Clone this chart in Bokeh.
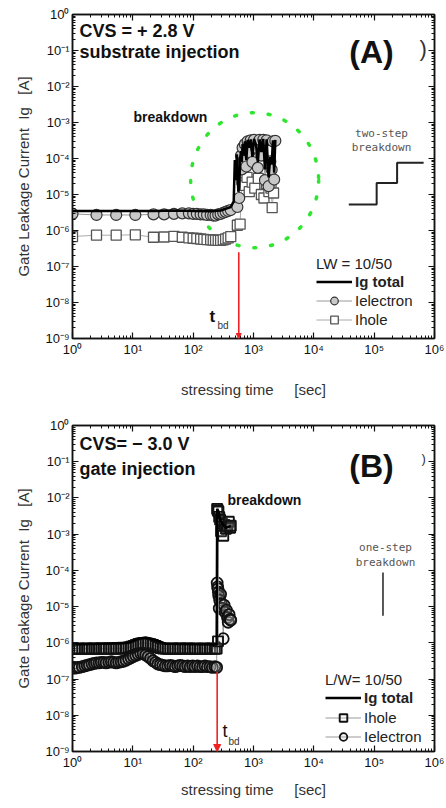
from bokeh.plotting import figure
from bokeh.layouts import column
from bokeh.models import (Range1d, LogAxis, FixedTicker, CustomJSTickFormatter, Label,
                          Arrow, NormalHead, Legend, LegendItem, CustomLabelingPolicy)
from bokeh.embed import file_html
from bokeh.resources import INLINE

# ---------------- axes ----------------
x_ticks = [1e0, 1e1, 1e2, 1e3, 1e4, 1e5, 1e6]
x_tick_labels = ["10⁰", "10¹", "10²", "10³", "10⁴", "10⁵", "10⁶"]
y_ticks = [1e-9, 1e-8, 1e-7, 1e-6, 1e-5, 1e-4, 1e-3, 1e-2, 1e-1, 1e0]
y_tick_labels = ["10⁻⁹", "10⁻⁸", "10⁻⁷", "10⁻⁶", "10⁻⁵", "10⁻⁴", "10⁻³", "10⁻²", "10⁻¹", "10⁰"]

# ---------------- panel (A): CVS = +2.8 V, substrate injection ----------------
a_elec_t = [1.0, 2.5, 5.3, 11, 22, 33, 48, 66, 85, 100, 115, 133, 150, 170, 195, 215, 235, 260,
            285, 315, 345, 380, 420, 540,
            580, 600, 620, 640, 660, 690, 720, 760, 800, 850, 900, 960, 1020, 1100, 1180, 1260,
            1350, 1450, 1550, 1650, 1780, 1900, 2000, 2100, 2200, 2300]
a_elec_i = [2.9e-6, 2.7e-6, 2.7e-6, 2.7e-6, 2.8e-6, 2.8e-6, 2.9e-6, 3.0e-6, 3.0e-6, 2.9e-6,
            2.9e-6, 2.8e-6, 2.8e-6, 2.7e-6, 2.7e-6, 2.6e-6, 2.6e-6, 2.8e-6,
            2.9e-6, 3.1e-6, 3.3e-6, 3.5e-6, 3.7e-6, 4.5e-6,
            8e-6, 7e-5, 1.2e-4, 5e-5, 2e-4, 9e-5, 2.5e-4, 6e-5, 3e-4, 1.5e-4, 3.2e-4, 8e-5,
            3.3e-4, 2e-4, 5.5e-5, 3.3e-4, 1.2e-4, 3.3e-4, 2.5e-5, 3.2e-4, 1.7e-5, 8.3e-5,
            4.9e-5, 3.0e-4, 2.6e-5, 3.1e-4]
a_hole_t = [1.0, 2.5, 5.3, 11, 22, 33, 48, 66, 85, 100, 115, 133, 150, 170, 195, 215, 235, 260,
            285, 315, 345, 380, 420, 540,
            600, 640, 680, 720, 780, 850, 950, 1050, 1200, 1350, 1490, 1650, 1800, 1950, 2040, 2150]
a_hole_i = [6.8e-7, 7.4e-7, 7.4e-7, 7.6e-7, 6.5e-7, 6.6e-7, 6.9e-7, 6.5e-7, 6.2e-7, 6.1e-7,
            6.0e-7, 5.8e-7, 5.7e-7, 5.6e-7, 5.5e-7, 5.4e-7, 5.4e-7, 5.3e-7,
            5.3e-7, 5.5e-7, 5.8e-7, 6.2e-7, 6.8e-7, 1.4e-6,
            1.5e-6, 2.6e-5, 4e-5, 1.8e-5, 3e-5, 1.2e-5, 2.2e-5, 1.5e-5, 2.8e-5, 1.0e-5,
            8e-6, 2e-5, 1.2e-5, 1.5e-5, 4.3e-6, 1.1e-5]
a_total_t = [1.0, 2.5, 5.3, 11, 22, 48, 110, 195, 285, 345, 420, 470,
             490, 510, 530, 560, 580, 600, 620, 640, 660, 690, 720, 760, 800, 850, 900, 960,
             1020, 1100, 1180, 1260, 1350, 1450, 1550, 1650, 1780, 1900, 2000, 2100, 2200, 2300]
a_total_i = [3.5e-6, 3.5e-6, 3.5e-6, 3.5e-6, 3.5e-6, 3.6e-6, 3.5e-6, 3.4e-6, 3.6e-6, 4.0e-6, 4.5e-6, 6.5e-6,
             9e-5, 2.5e-5, 1.3e-4, 1.2e-5, 1.5e-5, 9e-5, 1.6e-4, 8e-5, 2.5e-4, 1.2e-4, 3e-4, 9e-5,
             3.3e-4, 2e-4, 3.4e-4, 1.1e-4, 3.5e-4, 2.4e-4, 8e-5, 3.4e-4, 1.5e-4, 3.5e-4, 5e-5,
             3.4e-4, 3e-5, 1.1e-4, 7e-5, 3.2e-4, 4e-5, 3.3e-4]
a_tbd = 570
a_tbd_from = 2.5e-7
a_zone_t, a_zone_i = 1045, 2.5e-5
a_twostep_t = [3.8e4, 1.1e5, 1.1e5, 2.4e5, 2.4e5, 6.6e5]
a_twostep_i = [5.3e-6, 5.3e-6, 2.1e-5, 2.1e-5, 7.6e-5, 7.6e-5]

# ---------------- panel (B): CVS = -3.0 V, gate injection ----------------
b_t = [1.0, 1.1, 1.2, 1.3, 1.45, 1.6, 1.75, 1.9, 2.1, 2.3,
       2.5, 2.75, 3.0, 3.3, 3.6, 4.0, 4.4, 4.8, 5.3, 5.8,
       6.4, 7.0, 7.7, 8.5, 9.3,
       10.2, 11.2, 12.3, 13.5, 14.8, 16.3, 17.9, 19.7, 21.6, 23.8, 26,
       28.7, 31.5, 34.6, 38, 41.8, 46, 50.5, 55.5, 61, 67,
       73.7, 81, 89, 98, 107, 118, 130, 143, 157, 172,
       190, 208, 229, 245]
b_hole_pre = [6.8e-7, 6.8e-7, 6.9e-7, 7.0e-7, 6.8e-7, 6.9e-7, 7.0e-7, 6.8e-7, 6.9e-7, 7.0e-7,
              6.8e-7, 6.9e-7, 7.0e-7, 6.9e-7, 6.8e-7, 7.0e-7, 6.9e-7, 6.8e-7, 7.0e-7, 6.9e-7,
              7.0e-7, 7.1e-7, 7.2e-7, 7.4e-7, 7.8e-7,
              8.2e-7, 8.8e-7, 9.3e-7, 9.6e-7, 9.8e-7, 9.7e-7, 9.5e-7, 9.2e-7, 8.8e-7, 8.2e-7, 7.6e-7,
              7.2e-7, 7.0e-7, 6.9e-7, 6.8e-7, 6.9e-7, 7.0e-7, 6.8e-7, 6.9e-7, 7.0e-7, 6.8e-7,
              6.9e-7, 7.0e-7, 6.9e-7, 6.8e-7, 7.0e-7, 6.9e-7, 6.8e-7, 6.9e-7, 7.0e-7, 6.8e-7,
              6.9e-7, 7.0e-7, 6.8e-7, 6.9e-7]
b_elec_pre = [2.0e-7, 2.0e-7, 2.1e-7, 2.1e-7, 2.2e-7, 2.3e-7, 2.4e-7, 2.5e-7, 2.6e-7, 2.7e-7,
              2.8e-7, 2.8e-7, 2.9e-7, 2.9e-7, 2.8e-7, 2.9e-7, 3.0e-7, 2.9e-7, 2.8e-7, 2.9e-7,
              3.0e-7, 3.1e-7, 3.3e-7, 3.6e-7, 3.9e-7,
              4.2e-7, 4.5e-7, 4.8e-7, 5.1e-7, 5.0e-7, 4.6e-7, 4.2e-7, 3.7e-7, 3.2e-7, 2.9e-7, 2.6e-7,
              2.5e-7, 2.4e-7, 2.3e-7, 2.3e-7, 2.4e-7, 2.3e-7, 2.2e-7, 2.3e-7, 2.4e-7, 2.3e-7,
              2.2e-7, 2.3e-7, 2.2e-7, 2.3e-7, 2.2e-7, 2.3e-7, 2.2e-7, 2.2e-7, 2.3e-7, 2.2e-7,
              2.2e-7, 2.1e-7, 2.2e-7, 2.1e-7]
b_hole_post_t = [250, 255, 258, 262, 270, 280, 290, 300, 315, 330, 350, 370, 390, 410, 420]
b_hole_post_i = [5e-3, 4.6e-3, 1.1e-6, 4.2e-3, 3.0e-3, 2.5e-3, 1.2e-3, 2.0e-3, 9e-4, 1.8e-3,
                 1.4e-3, 1.6e-3, 2.2e-3, 1.5e-3, 1.7e-3]
b_elec_post_t = [250, 254, 258, 262, 265, 270, 275, 285, 295, 305, 315, 325, 340, 355, 370, 380,
                 395, 410, 420]
b_elec_post_i = [4.5e-5, 3.5e-5, 3.1e-5, 2.5e-5, 2.0e-5, 9e-6, 1.5e-5, 2.2e-5, 1.2e-5, 9e-6, 1.3e-6,
                 1.1e-5, 7e-6, 8e-6, 5e-6, 3.7e-6, 6e-6, 4.5e-6, 4.2e-6]
b_total_t = [1.0, 3.0, 8.5, 12.3, 16.3, 23.8, 34.6, 100, 245, 250, 262, 280, 300, 350, 420]
b_total_i = [9e-7, 9.5e-7, 1.0e-6, 1.3e-6, 1.4e-6, 1.2e-6, 9.5e-7, 9.2e-7, 9e-7,
             5e-3, 4.3e-3, 2.5e-3, 2.0e-3, 1.5e-3, 1.7e-3]
b_tbd = 250
b_tbd_from = 1.6e-7
b_onestep_t = [1.4e5, 1.4e5]
b_onestep_i = [8.7e-5, 5.6e-6]

# ---------------- styling helpers ----------------
FONT = "Liberation Sans"
x_minor = [m * 10 ** k for k in range(6) for m in range(2, 10)]
y_minor = [m * 10.0 ** k for k in range(-9, 0) for m in range(2, 10)]
CODE = """
const i = tv.findIndex(t => Math.abs(Math.log10(t) - Math.log10(tick)) < 1e-6);
return i >= 0 ? labs[i] : "";
"""
FRAME_L = 72


def make_panel(height, top, bottom, xlabel_standoff):
    p = figure(width=446, height=height, x_axis_type="log", y_axis_type="log",
               x_range=Range1d(1, 1e6), y_range=Range1d(1e-9, 1),
               output_backend="svg", toolbar_location=None,
               min_border_left=FRAME_L, min_border_right=12,
               min_border_top=top, min_border_bottom=bottom)
    p.add_layout(LogAxis(), "above")
    p.add_layout(LogAxis(), "right")
    p.grid.visible = False
    p.outline_line_color = "#111"
    p.outline_line_width = 1.5
    p.background_fill_color = "white"
    p.border_fill_color = "white"
    fx = CustomJSTickFormatter(args=dict(tv=x_ticks, labs=x_tick_labels), code=CODE)
    fy = CustomJSTickFormatter(args=dict(tv=y_ticks, labs=y_tick_labels), code=CODE)
    for axes, tk, mn, fmt in ((p.xaxis, x_ticks, x_minor, fx), (p.yaxis, y_ticks, y_minor, fy)):
        for ax in axes:
            ax.ticker = FixedTicker(ticks=tk, minor_ticks=mn)
            ax.formatter = fmt
            ax.major_tick_in = 6
            ax.major_tick_out = 0
            ax.minor_tick_in = 3
            ax.minor_tick_out = 0
            ax.axis_line_color = "#111"
            ax.axis_line_width = 1.5
            ax.major_tick_line_color = "#111"
            ax.minor_tick_line_color = "#111"
            ax.major_tick_line_width = 1.2
            ax.major_label_text_font = FONT
            ax.major_label_text_font_size = "13px"
            ax.major_label_text_color = "#111"
            ax.major_label_standoff = 3
    for ax in (p.above[0], p.right[0]):
        ax.major_label_text_font_size = "0px"
        ax.major_label_standoff = 0
        ax.major_label_policy = CustomLabelingPolicy(
            code="for (const i of indices) indices.unset(i); return indices")
    xa = p.below[0]
    ya = p.left[0]
    xa.axis_label = "stressing time\u00a0\u00a0\u00a0\u00a0\u00a0[sec]"
    ya.axis_label = "Gate Leakage Current\u00a0\u00a0Ig\u00a0\u00a0\u00a0[A]"
    for ax in (xa, ya):
        ax.axis_label_text_font = FONT
        ax.axis_label_text_font_size = "15px"
        ax.axis_label_text_font_style = "normal"
        ax.axis_label_text_color = "#333"
    xa.axis_label_standoff = xlabel_standoff
    ya.axis_label_standoff = 10
    return p


def text(p, fb, cx, cy, s, size, style="normal", color="#111", align="left", font=FONT):
    p.add_layout(Label(x=cx - FRAME_L, y=fb - cy, x_units="screen", y_units="screen", text=s,
                       text_font=font, text_font_size=f"{size}px", text_font_style=style,
                       text_color=color, text_align=align, text_baseline="middle"))


def legend(p, x, y, items, title=None, bold=False):
    lg = Legend(items=items, location=(x, y), orientation="vertical",
                border_line_color=None, background_fill_alpha=0, padding=0, margin=0,
                spacing=0, glyph_width=36, glyph_height=19, label_height=19, label_standoff=3,
                label_text_font=FONT, label_text_font_size="15px",
                label_text_font_style="bold" if bold else "normal", label_text_color="#222")
    if title:
        lg.title = title
        lg.title_text_font = FONT
        lg.title_text_font_size = "15px"
        lg.title_text_font_style = "normal"
        lg.title_text_color = "#222"
        lg.title_standoff = 0
    p.add_layout(lg)


# ================= panel A =================
pa = make_panel(400, 14, 60, 21)
FB_A = 340
pa.ellipse(x=[a_zone_t], y=[a_zone_i], width=128, height=135, width_units="screen",
           height_units="screen", fill_color=None, line_color="#2ee62e", line_width=3.5,
           line_dash="2 15", line_cap="round")
ra_hl = pa.line(a_hole_t, a_hole_i, line_color="#aaaaaa", line_width=1)
ra_hs = pa.scatter(a_hole_t, a_hole_i, marker="square", size=10, fill_color="white",
                   line_color="#555", line_width=1.3)
ra_el = pa.line(a_elec_t, a_elec_i, line_color="#999999", line_width=1)
ra_es = pa.scatter(a_elec_t, a_elec_i, marker="circle", size=11, fill_color="#c8c8c8",
                   line_color="#333", line_width=1.2)
ra_t = pa.line(a_total_t, a_total_i, line_color="black", line_width=2.5)
pa.line(a_twostep_t, a_twostep_i, line_color="#222", line_width=2)
pa.add_layout(Arrow(end=NormalHead(size=5, fill_color="#ee2222", line_color="#ee2222"),
                    x_start=a_tbd, y_start=a_tbd_from, x_end=a_tbd, y_end=1e-9,
                    line_color="#ee2222", line_width=1.6))

text(pa, FB_A, 79, 32, "CVS = + 2.8 V", 18, "bold")
text(pa, FB_A, 79, 53, "substrate injection", 18, "bold")
text(pa, FB_A, 371, 53, "(A)", 32, "bold", align="center")
text(pa, FB_A, 419, 50, ")", 22, "normal", color="#333")
text(pa, FB_A, 133, 118, "breakdown", 14, "bold")
text(pa, FB_A, 381, 135, "two-step", 11, color="#555", align="center", font="DejaVu Sans Mono")
text(pa, FB_A, 381, 149, "breakdown", 11, color="#555", align="center", font="DejaVu Sans Mono")
text(pa, FB_A, 209, 318, "t", 17, "bold")
text(pa, FB_A, 217, 327, "bd", 10, color="#333")

legend(pa, 244, 47, [LegendItem(label="Ig total", renderers=[ra_t])], title="LW = 10/50", bold=True)
legend(pa, 244, 9, [LegendItem(label="Ielectron", renderers=[ra_el, ra_es]),
                    LegendItem(label="Ihole", renderers=[ra_hl, ra_hs])])

# ================= panel B =================
pb = make_panel(408, 25, 57, 8)
FB_B = 351
rb_el = pb.line(b_t + b_elec_post_t, b_elec_pre + b_elec_post_i, line_color="#999999", line_width=1)
rb_es = pb.scatter(b_t + b_elec_post_t, b_elec_pre + b_elec_post_i, marker="circle", size=11,
                   fill_color="#c4c4c4", fill_alpha=0.2, line_color="#111", line_width=1.8)
rb_hl = pb.line(b_t + b_hole_post_t, b_hole_pre + b_hole_post_i, line_color="#999999", line_width=1)
rb_hs = pb.scatter(b_t + b_hole_post_t, b_hole_pre + b_hole_post_i, marker="square", size=10,
                   fill_color="white", fill_alpha=0.1, line_color="#111", line_width=1.9)
rb_t = pb.line(b_total_t, b_total_i, line_color="black", line_width=2.5)
pb.line(b_onestep_t, b_onestep_i, line_color="#222", line_width=1.5)
pb.add_layout(Arrow(end=NormalHead(size=7, fill_color="#ee2222", line_color="#ee2222"),
                    x_start=b_tbd, y_start=b_tbd_from, x_end=b_tbd, y_end=1e-9,
                    line_color="#ee2222", line_width=1.6))

text(pb, FB_B, 79, 43, "CVS= \u2212 3.0 V", 18, "bold")
text(pb, FB_B, 79, 68, "gate injection", 18, "bold")
text(pb, FB_B, 371, 65, "(B)", 32, "bold", align="center")
text(pb, FB_B, 421, 58, ")", 13, "normal", color="#333")
text(pb, FB_B, 227, 99, "breakdown", 14, "bold")
text(pb, FB_B, 385, 147, "one-step", 11, color="#555", align="center", font="DejaVu Sans Mono")
text(pb, FB_B, 385, 162, "breakdown", 11, color="#555", align="center", font="DejaVu Sans Mono")
text(pb, FB_B, 222, 330, "t", 18, "normal")
text(pb, FB_B, 228, 341, "bd", 10, color="#333")

legend(pb, 253, 44, [LegendItem(label="Ig total", renderers=[rb_t])], title="L/W= 10/50", bold=True)
legend(pb, 253, 5, [LegendItem(label="Ihole", renderers=[rb_hl, rb_hs]),
                    LegendItem(label="Ielectron", renderers=[rb_el, rb_es])])

layout = column(pa, pb, spacing=0)
open("out.html", "w").write(file_html(layout, INLINE))
